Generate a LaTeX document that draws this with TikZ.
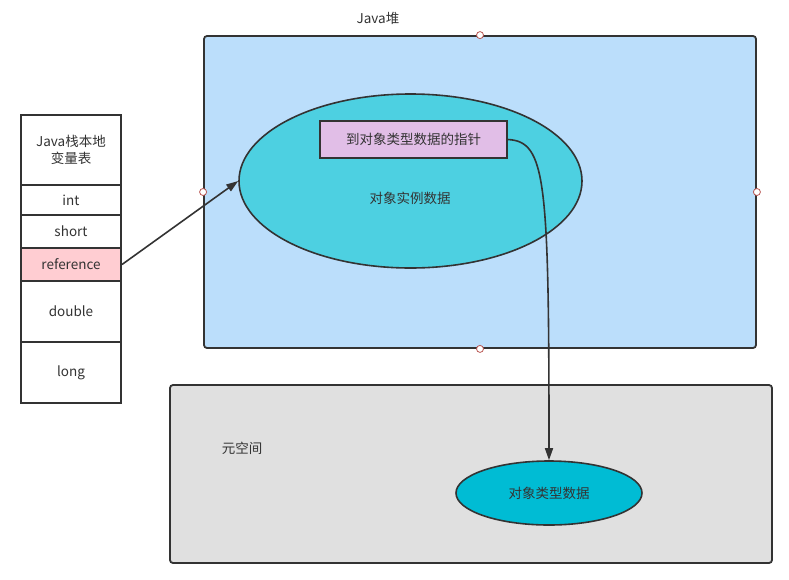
\documentclass[tikz,border=0pt]{standalone}
\usepackage{fontspec}
\setmainfont{Noto Sans CJK SC}
\usetikzlibrary{shapes.geometric,arrows.meta}

\definecolor{linegray}{HTML}{333333}
\definecolor{heapblue}{HTML}{BBDEFB}
\definecolor{objcyan}{HTML}{4DD0E1}
\definecolor{typecyan}{HTML}{00BCD4}
\definecolor{ptrpurple}{HTML}{E1BEE7}
\definecolor{refpink}{HTML}{FFCDD2}
\definecolor{metagray}{HTML}{E0E0E0}
\definecolor{handlered}{HTML}{B85450}

\begin{document}
\begin{tikzpicture}[x=1pt,y=-1pt,>={Triangle[length=12pt,width=8pt]},
  every node/.style={font=\fontsize{13.5}{16.5}\selectfont,text=linegray},
  stack cell/.style={rectangle,draw=linegray,line width=2pt,fill=white,
    minimum width=100pt,inner sep=0pt,align=center},
  region/.style={rectangle,draw=linegray,line width=1.8pt,rounded corners=3pt,inner sep=0pt},
  blob/.style={ellipse,draw=linegray,line width=1.6pt,inner sep=0pt},
  handle/.style={circle,draw=handlered,fill=white,line width=0.8pt,minimum size=7pt,inner sep=0pt},
  link/.style={->,draw=linegray,line width=1.6pt}]

  \useasboundingbox (0,0) rectangle (789,579);

  % heap and metaspace
  \node[region,fill=heapblue,minimum width=552pt,minimum height=312pt] (heap) at (480,192) {};
  \node[region,fill=metagray,minimum width=602pt,minimum height=178pt] (meta) at (471,474) {};
  \node (heaplabel) at (378,18) {Java堆};
  \node (metalabel) at (242,448) {元空间};

  % selection handles
  \node[handle] (h1) at (heap.north) {};
  \node[handle] (h2) at (heap.west) {};
  \node[handle] (h3) at (heap.east) {};
  \node[handle] (h4) at (heap.south) {};

  % objects
  \node[blob,fill=objcyan,minimum width=343pt,minimum height=174pt] (inst) at (410.5,181) {};
  \node (instlabel) at (410,198) {对象实例数据};
  \node[rectangle,draw=linegray,line width=1.8pt,fill=ptrpurple,minimum width=187pt,
    minimum height=37pt,inner sep=0pt] (ptr) at (413.5,139.5) {到对象类型数据的指针};
  \node[blob,fill=typecyan,minimum width=186pt,minimum height=64pt] (klass) at (549,493) {对象类型数据};

  % local variable table
  \node[stack cell,minimum height=70pt] (head) at (71,150) {Java栈本地\\变量表};
  \node[stack cell,minimum height=30pt] (int) at (71,200) {int};
  \node[stack cell,minimum height=33pt] (short) at (71,231.5) {short};
  \node[stack cell,minimum height=33pt,fill=refpink] (ref) at (71,264.5) {reference};
  \node[stack cell,minimum height=61pt] (double) at (71,311.5) {double};
  \node[stack cell,minimum height=61pt] (long) at (71,372.5) {long};

  \path (ref.east) edge[link] (inst.west);
  \draw[link] (ptr.east) .. controls +(38,2) and +(0,-281) .. (klass.north);
\end{tikzpicture}
\end{document}
